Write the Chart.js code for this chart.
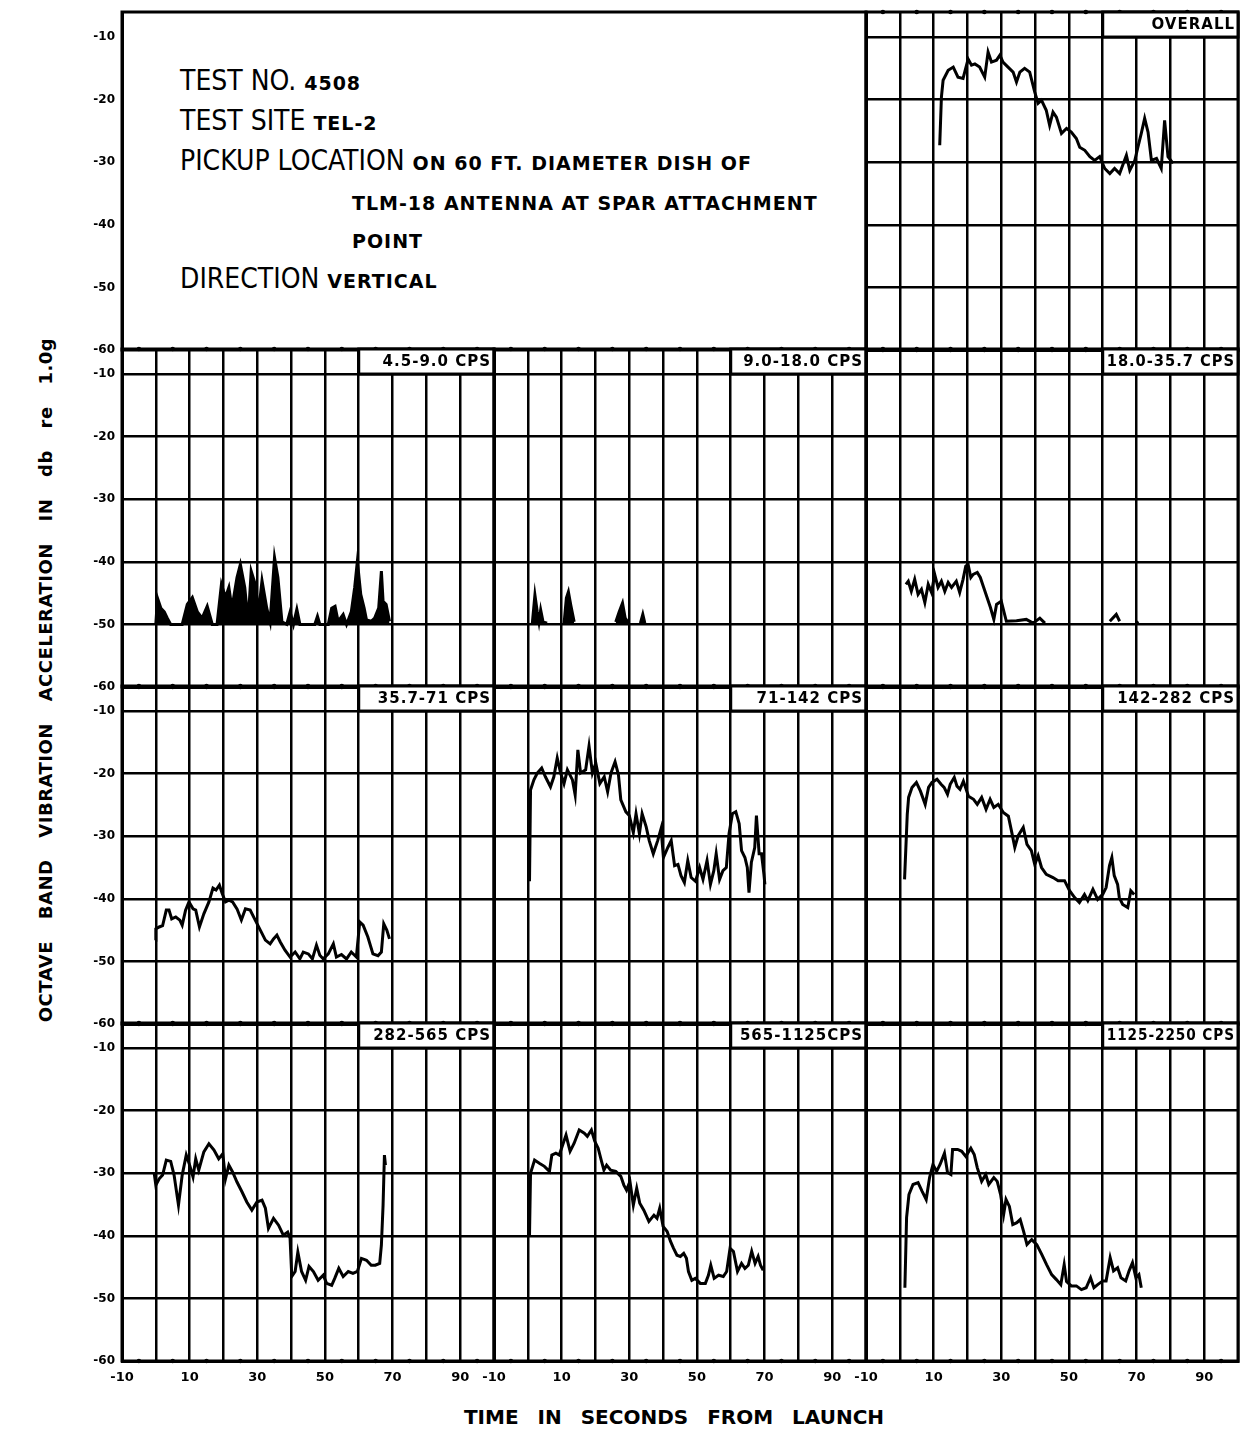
<!DOCTYPE html>
<html>
<head>
<meta charset="utf-8">
<title>Test 4508 octave band vibration</title>
<script src="https://cdn.jsdelivr.net/npm/chart.js"></script>
<style>
  body { margin: 0; background: #fff; }
  #page { position: relative; width: 1254px; height: 1430px; overflow: hidden; background: #fff; }
  #page canvas { position: absolute; }
  .line { position: absolute; left: 180px; white-space: nowrap; color: #000; height: 30px; line-height: 30px;
          font-family: "DejaVu Sans Condensed", "DejaVu Sans", sans-serif; font-stretch: condensed; font-size: 28px; }
  .sm { font-family: "DejaVu Sans", sans-serif; font-stretch: normal; font-weight: bold; font-size: 19px; letter-spacing: 1px; }
  #ytitle { position: absolute; left: 45px; top: 680px; white-space: nowrap; transform: translate(-50%, -50%) rotate(-90deg);
            font-family: "DejaVu Sans", sans-serif; font-weight: bold; font-size: 18px; word-spacing: 15px; letter-spacing: 0.5px; color: #000; }
  #xtitle { position: absolute; left: 674px; top: 1417px; white-space: nowrap; transform: translate(-50%, -50%);
            font-family: "DejaVu Sans", sans-serif; font-weight: bold; font-size: 20px; word-spacing: 12px; color: #000; }
</style>
</head>
<body>
<div id="page">
  <div class="line" style="top:66px">TEST NO. <span class="sm">4508</span></div>
  <div class="line" style="top:106px">TEST SITE <span class="sm">TEL-2</span></div>
  <div class="line" style="top:146px">PICKUP LOCATION <span class="sm">ON 60 FT. DIAMETER DISH OF</span></div>
  <div class="line" style="top:186px; left:352px"><span class="sm">TLM-18 ANTENNA AT SPAR ATTACHMENT</span></div>
  <div class="line" style="top:224px; left:352px"><span class="sm">POINT</span></div>
  <div class="line" style="top:264px">DIRECTION <span class="sm">VERTICAL</span></div>
  <div id="ytitle">OCTAVE BAND VIBRATION ACCELERATION IN db re 1.0g</div>
  <div id="xtitle">TIME IN SECONDS FROM LAUNCH</div>
</div>
<script>
// tick labels shown on the axes
const xTickLabels = [-10, 10, 30, 50, 70, 90];
const yTickLabels = [-10, -20, -30, -40, -50, -60];

// OVERALL
const overallTime = [11.8, 12.3, 12.8, 14.3, 15.8, 17.2, 18.7, 20.2, 21.2, 22.2, 23.6, 25.1, 26.1, 27.1, 28.6, 29.6, 30.5, 32, 33.5, 34.5,
  35.5, 36.9, 38.4, 39.9, 40.9, 41.9, 43.3, 44.3, 45.3, 46.3, 47.8, 49.3, 50.7, 52.2, 53.2, 54.7, 56.2, 57.6, 59.1, 60.6,
  62.1, 63.5, 65, 67, 68, 69.5, 70.4, 71.4, 72.4, 73.4, 74.4, 75.9, 77.3, 78.3, 79.3, 80.8];
const overallDb = [-27.3, -19.6, -16.9, -15.3, -14.8, -16.4, -16.6, -13.5, -14.5, -14.3, -14.8, -16.4, -12.4, -14, -13.7, -12.9, -14, -14.8, -15.6, -17.2,
  -15.6, -15, -15.6, -18.8, -20.6, -20.1, -21.7, -24.1, -22, -22.8, -25.4, -24.6, -25.2, -26.2, -27.6, -28.1, -29.1, -29.7, -29.1, -31,
  -31.8, -31, -31.8, -28.9, -31.3, -29.7, -27.6, -25.4, -23, -25.2, -29.7, -29.4, -31, -23.3, -29.1, -30.2];

// 4.5-9.0 CPS
const band1Time = [0, 0.5, 1.5, 2.5, 3.4, 4.4, 7.8, 9.3, 10.8, 12.3, 13.7, 15.2, 16.7, 18.1, 19.4, 20.6, 21.6, 22.5, 24, 25,
  26.3, 27.3, 28.2, 29.4, 30.4, 31.4, 32.8, 33.8, 35.1, 36.1, 37.3, 38.7, 39.7, 40.7, 41.7, 42.6, 47, 47.8, 48.5, 51,
  52, 53, 53.9, 55.4, 56.4, 57.8, 58.8, 59.6, 60.6, 61.6, 62.3, 63.7, 64.7, 65.9, 66.7, 67.2, 68.1, 69.1];
const band1Db = [-50, -45.8, -47.4, -48, -49, -50, -50, -46.8, -45.7, -48, -49, -47.1, -50, -50, -43.6, -45.7, -44.1, -47.4, -42.5, -40.4,
  -44.1, -49.6, -41.5, -43.6, -48, -43, -47.4, -49.6, -39.3, -42.5, -49.6, -50, -48, -50, -47.6, -50, -50, -48.7, -50, -50,
  -47.4, -47.1, -49.5, -48.4, -50, -48, -44.1, -39.9, -45.2, -47.4, -49.3, -49.5, -49, -47.4, -41.5, -46.3, -46.8, -49.5];

// 9.0-18.0 CPS (null = no trace)
const band2Time = [1.3, 2.1, 2.8, 3.3, 3.8, 4.5, 5.7, 8, 10.7, 11.4, 12, 12.7, 13.7, 20, 26, 27, 28, 28.8, 29.8, 31.5, 33.3, 34, 34.6];
const band2Db = [-50, -45.3, -48, -49.6, -47.7, -49.6, -49.8, null, -50, -45.8, -44.8, -46.9, -49.6, null, -49.6, -48, -46.6, -49, -49.8, null, -49.8, -48.4, -49.8];

// 18.0-35.7 CPS
const band3Time = [1.8, 2.5, 3.4, 4.4, 5.4, 6.4, 7.4, 8.4, 9.4, 10.3, 11.3, 12.3, 13.3, 14.3, 15.3, 16.7, 17.7, 18.7, 19.5, 20.2,
  21, 21.7, 22.9, 23.8, 24.8, 25.8, 26.8, 27.8, 28.6, 30, 31.5, 34.5, 37.4, 39.4, 41.4, 42.9, 50, 62.1, 64, 65, 67, 70, 70.4];
const band3Db = [-43.6, -43.1, -44.7, -42.8, -45.2, -44.4, -46.5, -43.6, -44.9, -42, -44.1, -43.1, -44.7, -43.3, -44.1, -43.1, -44.9, -42.8, -40.7, -40.4,
  -42.5, -42, -41.7, -42.5, -44.1, -45.7, -47.3, -49.2, -46.8, -46.3, -49.5, -49.4, -49.2, -49.8, -49, -49.8, null, -49.5, -48.4, -49.5, null, -49.5, -49.9];

// 35.7-71 CPS
const band4Time = [-0.2, 0, 1, 2, 3.1, 3.9, 4.7, 5.9, 7.1, 7.8, 8.8, 9.8, 11, 11.8, 12.9, 14.2, 15.7, 16.9, 17.8, 18.8,
  19.6, 20.6, 21.6, 22.7, 24, 25.3, 26.5, 27.9, 29.4, 30.9, 32.4, 33.8, 34.8, 35.8, 36.8, 38.2, 39.7, 41.2, 42.6, 43.6,
  45.1, 46.3, 47.5, 48.5, 49.5, 51, 52.5, 53.4, 54.9, 56.4, 57.8, 59.3, 60.3, 61.3, 62.7, 64.2, 65.7, 66.7, 67.4, 68.3, 69.1];
const band4Db = [-46.6, -44.8, -44.5, -44.3, -41.8, -41.8, -43.2, -42.9, -43.4, -44.2, -41.8, -40.5, -41.6, -41.8, -44.5, -42.4, -40.5, -38.3, -38.6, -37.8,
  -39.1, -40.5, -40.2, -40.5, -41.6, -43.4, -41.6, -41.8, -43.4, -45, -46.6, -47.2, -46.4, -45.8, -46.9, -48.2, -49.3, -48.5, -49.6, -48.5,
  -48.8, -49.6, -47.4, -49, -49.6, -48.8, -47.2, -49.3, -48.9, -49.6, -48.5, -49.3, -43.7, -44.2, -46.1, -48.8, -49.1, -48.5, -44, -45, -46.4];

// 71-142 CPS
const band5Time = [0.5, 0.8, 1.8, 2.8, 4.1, 5.2, 6.7, 7.7, 8.7, 9.7, 10.7, 11.7, 13.2, 14, 14.8, 15.6, 17.1, 18.1, 19.1, 20.1,
  21.3, 22.6, 23.6, 24.6, 25.8, 26.8, 27.5, 29, 30, 31.2, 32, 33, 33.8, 35, 35.9, 37.1, 38.4, 39.4, 40.1, 41.4,
  42.4, 43.4, 44.4, 45.3, 46.3, 47.3, 48.3, 49.6, 50.8, 51.8, 53, 54, 55, 55.7, 56.7, 57.7, 58.7, 59.5, 60.5, 61.5,
  62.5, 63.2, 64.2, 64.9, 65.4, 66.1, 67.1, 67.6, 68.4, 69.1, 69.8, 70.1];
const band5Db = [-37.2, -22.6, -21, -19.9, -19.1, -20.5, -22.1, -20.5, -17.5, -19.9, -21.6, -19.4, -21, -23.4, -16.2, -19.9, -19.4, -15.6, -19.9, -18.3,
  -21.6, -20.5, -22.9, -19.9, -18.1, -20.2, -24.2, -26.1, -26.7, -29.4, -26.4, -29.6, -26.4, -28.5, -30.7, -32.8, -30.7, -28.8, -33.4, -31.8,
  -30.7, -34.7, -34.5, -36.3, -37.4, -33.9, -36.6, -37.2, -35, -36.9, -33.9, -37.7, -35.5, -32.8, -36.9, -35.5, -35, -29.6, -26.4, -26.1,
  -28, -32.3, -33.4, -35, -39, -34.2, -31.8, -26.7, -32.8, -32.8, -36, -37.7];

// 142-282 CPS
const band6Time = [1.4, 2.2, 2.6, 3.6, 4.9, 6.1, 7.5, 8.5, 9.5, 11, 12.2, 13.1, 14.1, 14.9, 16.1, 16.9, 17.8, 18.8, 20.3, 21.8,
  22.9, 24.2, 25.5, 26.7, 27.8, 29.1, 30.6, 32.1, 33, 34, 35, 36.5, 37.6, 38.9, 39.9, 40.9, 41.9, 43.3, 45.3, 46.8,
  48.7, 50.2, 51.7, 53.1, 54.6, 55.6, 57.1, 58.5, 60, 61, 62, 62.7, 63.4, 64.4, 64.9, 65.9, 67.4, 68.3, 69.3];
const band6Db = [-36.9, -26.5, -23.8, -22.2, -21.4, -22.8, -24.9, -22.2, -21.4, -20.9, -21.7, -22.2, -23.3, -21.7, -20.6, -22, -22.5, -21.2, -23.6, -24.1,
  -24.9, -23.8, -25.7, -24.1, -25.4, -24.9, -26.2, -26.8, -29.1, -31.8, -29.9, -28.6, -31.3, -32.3, -34.5, -33.1, -35, -36.1, -36.6, -37.1,
  -37.1, -38.7, -39.8, -40.6, -39.3, -40.3, -38.5, -40.1, -39.3, -38.2, -34.7, -33.4, -36.3, -37.7, -39.8, -40.9, -41.4, -38.7, -39.3];

// 282-565 CPS
const band7Time = [-0.5, 0, 1, 2, 3.1, 4.4, 5.4, 6.7, 7.8, 9, 10, 11, 11.8, 12.7, 14.2, 15.7, 17.2, 18.6, 19.8, 20.6,
  21.6, 22.7, 24, 25.5, 26.9, 28.4, 29.9, 31.4, 32.4, 33.3, 34.8, 36.3, 37.7, 39, 39.7, 40.2, 41.2, 42, 43.1, 44.3,
  45.3, 46.6, 48, 49.5, 50.5, 52, 52.9, 54.1, 55.4, 56.9, 58.3, 59.6, 60.8, 62.3, 63.7, 64.9, 66.2, 66.7, 67.2, 67.6, 67.9];
const band7Db = [-29.9, -31.9, -30.9, -30.3, -27.9, -28.1, -30.3, -35.1, -30.3, -27.1, -28.7, -30.6, -27.7, -29.5, -26.6, -25.3, -26.3, -27.7, -26.9, -30.9,
  -28.7, -29.8, -31.4, -33, -34.6, -35.9, -34.6, -34.3, -35.6, -38.8, -37.2, -38.3, -39.9, -39.4, -40.4, -46.5, -45.7, -42.6, -45.7, -47.1,
  -44.9, -45.7, -47.1, -46.3, -47.6, -47.9, -46.8, -45.2, -46.5, -45.7, -46, -45.7, -43.6, -43.9, -44.7, -44.7, -44.4, -41.5, -35.1, -27.1, -28.7];

// 565-1125 CPS
const band8Time = [0.5, 0.8, 2, 3.4, 4.9, 6.4, 7.1, 8.3, 9.3, 10.3, 11.3, 12.5, 13.7, 15.2, 16.7, 17.6, 18.8, 19.8, 20.8, 21.8,
  22.5, 23.3, 24.5, 26, 27.5, 28.4, 29.2, 30.2, 31.2, 32.2, 33.1, 34.3, 35.8, 37.3, 38.2, 39, 40, 41.2, 42.2, 43.1,
  44.1, 45.1, 46.1, 46.9, 47.5, 48.5, 49.5, 51, 52.5, 53.4, 54.1, 55.1, 56.4, 57.8, 58.8, 59.8, 60.8, 62, 63.2, 64.2,
  65.2, 66.2, 67.2, 68.1, 68.8, 69.6];
const band8Db = [-39.9, -30, -27.9, -28.4, -28.9, -29.7, -27.1, -26.8, -27.1, -25.5, -23.9, -26.5, -25.2, -23.1, -23.6, -24.1, -23.1, -24.9, -26, -28.1,
  -29.5, -28.7, -29.5, -29.7, -30.5, -31.9, -32.7, -31.3, -35.1, -32.4, -34.8, -35.9, -37.7, -36.7, -37.2, -35.6, -38.5, -39.3, -40.9, -42,
  -43.1, -43.3, -42.8, -43.6, -45.7, -47.1, -46.8, -47.6, -47.6, -46.3, -44.7, -46.8, -46.3, -46.5, -45.7, -42, -42.5, -45.7, -44.4, -45.2,
  -44.7, -42.5, -44.4, -43.3, -44.7, -45.5];

// 1125-2250 CPS
const band9Time = [1.5, 2, 2.7, 3.9, 5.4, 6.6, 7.8, 8.8, 9.8, 10.9, 11.9, 13.2, 14.1, 15.1, 15.6, 17.1, 18.3, 19.5, 21, 22,
  22.9, 24.2, 25.4, 26.3, 27.8, 28.8, 29.8, 30.7, 31.4, 32.4, 33.4, 34.6, 35.6, 36.6, 37.6, 39, 40.5, 42, 43.4, 44.9,
  46.3, 47.6, 48.6, 49.3, 50.7, 52.2, 53.7, 55.1, 56.4, 57.4, 58.5, 60, 61, 62.2, 63.2, 64.4, 65.4, 66.8, 67.8, 68.8,
  69.8, 70.7, 71.4];
const band9Db = [-48.3, -37.1, -33.4, -31.8, -31.5, -32.9, -34.2, -30.7, -28.6, -29.7, -28.6, -26.8, -29.9, -30.2, -26.2, -26.2, -26.5, -27.3, -26, -27,
  -29.1, -31.3, -30.2, -31.8, -30.7, -31.3, -33.4, -36.6, -34.2, -35.3, -38.2, -37.9, -37.4, -39.3, -41.4, -40.6, -41.4, -43, -44.6, -46.2,
  -47, -47.8, -44.6, -47.3, -48, -48, -48.6, -48.3, -46.7, -48.3, -47.8, -47.2, -47.2, -43.5, -45.6, -45.1, -46.7, -47.2, -45.6, -44.3,
  -46.7, -46.2, -48.3];

// panel grid on the page (px)
const colLeft = [122, 494, 866];
const rowTop = [12, 349, 686, 1023];
const panelW = 372;
const panelH = 338;
const yAxisW = 44;
const xAxisH = 30;
const pad = 3;
const labelRoom = 18; // so the "-10" under cols 2 and 3 is not cut off
const yMin = -60, yMax = -6;

const panels = [
  { label: "OVERALL", time: overallTime, db: overallDb, row: 0, col: 2 },
  { label: "4.5-9.0 CPS", time: band1Time, db: band1Db, row: 1, col: 0, filled: true },
  { label: "9.0-18.0 CPS", time: band2Time, db: band2Db, row: 1, col: 1, filled: true },
  { label: "18.0-35.7 CPS", time: band3Time, db: band3Db, row: 1, col: 2 },
  { label: "35.7-71 CPS", time: band4Time, db: band4Db, row: 2, col: 0 },
  { label: "71-142 CPS", time: band5Time, db: band5Db, row: 2, col: 1 },
  { label: "142-282 CPS", time: band6Time, db: band6Db, row: 2, col: 2 },
  { label: "282-565 CPS", time: band7Time, db: band7Db, row: 3, col: 0 },
  { label: "565-1125CPS", time: band8Time, db: band8Db, row: 3, col: 1 },
  { label: "1125-2250 CPS", time: band9Time, db: band9Db, row: 3, col: 2 }
];

// frame, half-step dots and the boxed band label in the top strip
const panelFrame = {
  id: "panelFrame",
  afterDraw(chart, args, opts) {
    const { ctx, chartArea: a } = chart;
    const x = chart.scales.x, y = chart.scales.y;
    ctx.save();
    ctx.fillStyle = "#000";
    if (opts.dots) {
      for (let t = -5; t < 100; t += 10) {
        const px = x.getPixelForValue(t);
        [a.top, a.bottom].forEach(py => { ctx.beginPath(); ctx.arc(px, py, 2.3, 0, Math.PI * 2); ctx.fill(); });
      }
      for (let v = -55; v > -10; v += 10) {
        const py = y.getPixelForValue(v);
        [a.left, a.right].forEach(px => { ctx.beginPath(); ctx.arc(px, py, 2.3, 0, Math.PI * 2); ctx.fill(); });
      }
    }
    ctx.strokeStyle = "#000";
    ctx.lineWidth = 3;
    ctx.strokeRect(a.left, a.top, a.width, a.height);
    if (opts.label) {
      const bx = x.getPixelForValue(60);
      const by = y.getPixelForValue(-10);
      ctx.fillStyle = "#fff";
      ctx.fillRect(bx, a.top, a.right - bx, by - a.top);
      ctx.strokeRect(bx, a.top, a.right - bx, by - a.top);
      ctx.fillStyle = "#000";
      ctx.font = 'bold 15px "DejaVu Sans"';
      ctx.textAlign = "right";
      ctx.textBaseline = "middle";
      ctx.letterSpacing = "1px";
      // squeeze long labels so they stay inside the box
      const room = a.right - bx - 7;
      const w = ctx.measureText(opts.label).width;
      const k = Math.min(1, room / w);
      ctx.translate(a.right - 3, (a.top + by) / 2 + 1);
      ctx.scale(k, 1);
      ctx.fillText(opts.label, 0, 0);
    }
    ctx.restore();
  }
};

function makeCanvas(left, top, w, h) {
  const cv = document.createElement("canvas");
  cv.width = w;
  cv.height = h;
  cv.style.left = left + "px";
  cv.style.top = top + "px";
  document.getElementById("page").appendChild(cv);
  return cv;
}

// keep every chart area the same size: no extra room for label overhang
function fixBox(s, w, h) {
  if (w !== null) s.width = w;
  if (h !== null) s.height = h;
  s.paddingLeft = 0;
  s.paddingRight = 0;
  s.paddingTop = 0;
  s.paddingBottom = 0;
}

function yScale(showLabels, showGrid) {
  return {
    min: yMin, max: yMax,
    ticks: {
      stepSize: 10, includeBounds: false, display: showLabels, padding: 7, color: "#000",
      font: { family: "DejaVu Sans", weight: "bold", size: 12 },
      callback: v => yTickLabels.includes(v) ? String(v) : ""
    },
    grid: { display: showGrid, color: "#000", lineWidth: 2.5, drawTicks: false },
    border: { color: "#000", width: 3 },
    afterFit: s => fixBox(s, showLabels ? yAxisW : 0, null)
  };
}

function drawPanel(p) {
  const first = p.col === 0, bottom = p.row === 3;
  const leftRoom = first ? yAxisW : (bottom ? labelRoom : 0);
  const cv = makeCanvas(
    colLeft[p.col] - pad - leftRoom,
    rowTop[p.row] - pad,
    panelW + 2 * pad + leftRoom,
    panelH + 2 * pad + (bottom ? xAxisH : 0)
  );
  new Chart(cv, {
    type: "line",
    data: {
      datasets: [{
        data: p.time.map((t, i) => ({ x: t, y: p.db[i] })),
        borderColor: "#000",
        backgroundColor: "#000",
        borderWidth: 3,
        fill: p.filled ? { value: -50 } : false,
        pointRadius: 0,
        tension: 0,
        spanGaps: false
      }]
    },
    options: {
      responsive: false,
      animation: false,
      layout: { padding: { top: pad, right: pad, bottom: pad, left: pad + (first ? 0 : leftRoom) } },
      plugins: { legend: { display: false }, tooltip: { enabled: false }, panelFrame: { label: p.label, dots: true } },
      scales: {
        x: {
          type: "linear", min: -10, max: 100,
          ticks: {
            stepSize: 10, display: bottom, autoSkip: false, maxRotation: 0, padding: 9, color: "#000",
            font: { family: "DejaVu Sans", weight: "bold", size: 13 },
            callback: v => xTickLabels.includes(v) ? String(v) : ""
          },
          grid: { color: "#000", lineWidth: 2.5, drawTicks: false },
          border: { color: "#000", width: 3 },
          afterFit: s => fixBox(s, null, bottom ? xAxisH : 0)
        },
        y: yScale(first, true)
      }
    },
    plugins: [panelFrame]
  });
}

// the header box top left only carries the dB scale
function drawInfoBox() {
  const cv = makeCanvas(colLeft[0] - pad - yAxisW, rowTop[0] - pad, 2 * panelW + 2 * pad + yAxisW, panelH + 2 * pad);
  new Chart(cv, {
    type: "line",
    data: { datasets: [] },
    options: {
      responsive: false,
      animation: false,
      layout: { padding: pad },
      plugins: { legend: { display: false }, tooltip: { enabled: false }, panelFrame: { label: null, dots: false } },
      scales: {
        x: {
          type: "linear", min: -10, max: 210,
          ticks: { display: false }, grid: { display: false }, border: { display: false },
          afterFit: s => fixBox(s, null, 0)
        },
        y: yScale(true, false)
      }
    },
    plugins: [panelFrame]
  });
}

drawInfoBox();
panels.forEach(drawPanel);
</script>
</body>
</html>
